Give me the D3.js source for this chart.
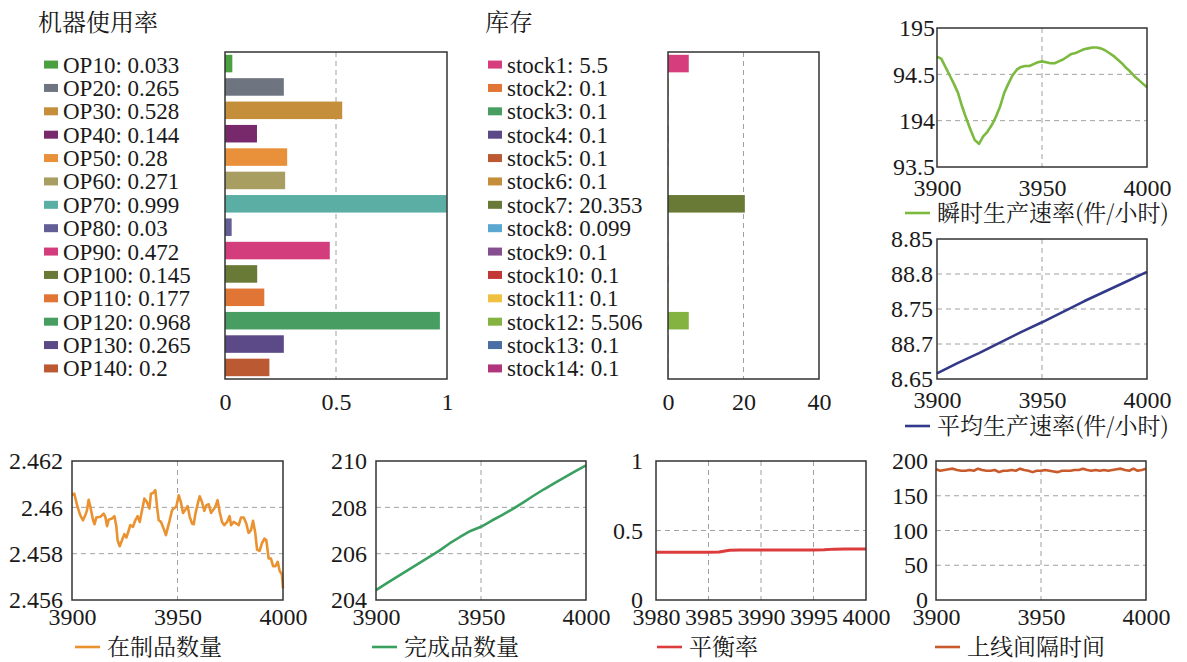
<!DOCTYPE html>
<html>
<head>
<meta charset="utf-8">
<script src="https://cdn.jsdelivr.net/npm/d3@7"></script>
</head>
<body style="margin:0;background:#fff">
<svg id="chart" width="1187" height="662"></svg>
<script>
// ---- data ----
const opNames = ['OP10', 'OP20', 'OP30', 'OP40', 'OP50', 'OP60', 'OP70', 'OP80', 'OP90', 'OP100', 'OP110', 'OP120', 'OP130', 'OP140'];
const opValues = [0.033, 0.265, 0.528, 0.144, 0.28, 0.271, 0.999, 0.03, 0.472, 0.145, 0.177, 0.968, 0.265, 0.2];
const opColors = ['#4aa040', '#6e7580', '#c48e3a', '#77296b', '#e8903a', '#a89e62', '#5aaea3', '#635f96', '#d43d7d', '#687a35', '#e07535', '#489e62', '#5b4a87', '#bb5a32'];

const stockNames = ['stock1', 'stock2', 'stock3', 'stock4', 'stock5', 'stock6', 'stock7', 'stock8', 'stock9', 'stock10', 'stock11', 'stock12', 'stock13', 'stock14'];
const stockValues = [5.5, 0.1, 0.1, 0.1, 0.1, 0.1, 20.353, 0.099, 0.1, 0.1, 0.1, 5.506, 0.1, 0.1];
const stockColors = ['#d63d7d', '#e07535', '#489e62', '#5b4a87', '#bb5a32', '#c48e3a', '#687a35', '#5aa7cf', '#854e8e', '#c43737', '#f0c040', '#84b342', '#4a6fa5', '#b0357a'];

// 瞬时生产速率, every 2 time units from 3900
const rateX = d3.range(3900, 4001, 2);
const rateY = [194.69, 194.67, 194.58, 194.49, 194.40, 194.30, 194.15, 194.02, 193.90, 193.79, 193.75,
  193.83, 193.88, 193.95, 194.04, 194.15, 194.30, 194.40, 194.49, 194.55, 194.58,
  194.59, 194.59, 194.61, 194.63, 194.64, 194.63, 194.62, 194.62, 194.64, 194.66,
  194.69, 194.72, 194.73, 194.75, 194.77, 194.78, 194.79, 194.79, 194.78, 194.76,
  194.73, 194.70, 194.66, 194.62, 194.57, 194.53, 194.48, 194.44, 194.40, 194.36];

// 平均生产速率, every 10
const avgX = d3.range(3900, 4001, 10);
const avgY = [88.658, 88.673, 88.687, 88.702, 88.717, 88.731, 88.746, 88.761, 88.775, 88.789, 88.803];

// 在制品数量
const wipX = [3900, 3901.1, 3902.4, 3903.9, 3905.2, 3906.3, 3907.1, 3907.9, 3908.7, 3910, 3910.7, 3911.5, 3913.4, 3915, 3915.8, 3916.6, 3917.4, 3919, 3920.1, 3921,
  3921.6, 3922.6, 3923.7, 3924.8, 3925.8, 3926.9, 3927.6, 3928.9, 3930, 3931.1, 3932.1, 3933.2, 3934.3, 3935.5, 3936.7, 3937.4, 3938.4, 3939.5, 3940.3, 3941.1,
  3942.2, 3943.4, 3944.5, 3945.3, 3946.3, 3947.4, 3948.2, 3949.4, 3950.6, 3951.7, 3952.6, 3953.7, 3954.8, 3955.8, 3956.9, 3957.7, 3958.5, 3959.6, 3960.5, 3961.6,
  3962.7, 3963.7, 3964.8, 3965.9, 3966.8, 3967.9, 3969, 3970, 3971.1, 3972.2, 3973.5, 3974.7, 3975.4, 3976.6, 3977.9, 3979, 3980.1, 3981.4, 3982.6, 3983.7,
  3984.8, 3985.8, 3986.9, 3987.7, 3988.9, 3990, 3991.2, 3992.1, 3993.2, 3994.3, 3995.3, 3996.4, 3997.5, 3998.4, 3999.5, 4000];
const wipY = [2.46052, 2.46059, 2.46009, 2.45966, 2.45944, 2.45966, 2.45987, 2.46033, 2.46002, 2.45944, 2.45927, 2.45956, 2.45959, 2.45973, 2.45959, 2.45919, 2.45947, 2.45952, 2.45962, 2.45919,
  2.45858, 2.45832, 2.45858, 2.45884, 2.45870, 2.45901, 2.45923, 2.45916, 2.45944, 2.45962, 2.45937, 2.45987, 2.46038, 2.46023, 2.45995, 2.46059, 2.46062, 2.46074, 2.46002, 2.45944,
  2.45937, 2.45909, 2.45880, 2.45909, 2.45944, 2.45987, 2.45995, 2.46002, 2.46052, 2.46019, 2.45976, 2.45990, 2.46005, 2.45959, 2.45930, 2.45927, 2.45973, 2.46016, 2.46048, 2.46023,
  2.45985, 2.46009, 2.46013, 2.45976, 2.45987, 2.46002, 2.46031, 2.45980, 2.45937, 2.45923, 2.45937, 2.45962, 2.45923, 2.45937, 2.45930, 2.45923, 2.45956, 2.45956, 2.45930, 2.45890,
  2.45901, 2.45942, 2.45887, 2.45818, 2.45812, 2.45844, 2.45865, 2.45858, 2.45779, 2.45779, 2.45746, 2.45746, 2.45765, 2.45726, 2.45710, 2.45650];

// 完成品数量, every 5
const doneX = d3.range(3900, 4001, 5);
const doneY = [204.43, 204.72, 205.0, 205.28, 205.56, 205.84, 206.12, 206.44, 206.72, 206.98, 207.16,
  207.42, 207.66, 207.92, 208.2, 208.5, 208.78, 209.04, 209.3, 209.56, 209.81];

// 平衡率, every unit from 3980
const balX = d3.range(3980, 4001, 1);
const balY = [0.344, 0.344, 0.344, 0.344, 0.344, 0.344, 0.346, 0.358, 0.36, 0.36, 0.36,
  0.36, 0.36, 0.36, 0.36, 0.36, 0.361, 0.366, 0.367, 0.367, 0.367];

// 上线间隔时间, every 2
const gapX = d3.range(3900, 4001, 2);
const gapY = [188, 186, 187, 188, 189, 187, 186, 186, 187, 186, 189, 187, 186, 186, 187, 184, 186, 186, 187, 186,
  189, 187, 186, 184, 186, 186, 187, 186, 185, 184, 186, 186, 186, 187, 187, 189, 187, 186, 187, 186,
  187, 186, 187, 188, 189, 187, 186, 189, 186, 187, 189];

const svg = d3.select('#chart');
const INK = '#1a1a1a';
const FRAME = '#333';
const GRID = '#a0a0a0';

function frame(g, w, h) {
  g.append('rect')
    .attr('width', w).attr('height', h)
    .attr('fill', 'none').attr('stroke', FRAME).attr('stroke-width', 1.5);
}

function barPanel(cfg) {
  const g = svg.append('g');
  g.append('text').attr('x', cfg.titleX).attr('y', 31).style('font-size', '24px').text(cfg.title);

  const x = d3.scaleLinear().domain(cfg.domain).range([cfg.x0, cfg.x1]);
  const y = d3.scaleBand().domain(cfg.names).range([cfg.y0, cfg.y1]).paddingInner(0.25).paddingOuter(0.12);

  // grid
  g.append('g').selectAll('line').data(cfg.grid).join('line')
    .attr('x1', d => x(d)).attr('x2', d => x(d))
    .attr('y1', cfg.y0).attr('y2', cfg.y1)
    .attr('stroke', GRID).attr('stroke-dasharray', '5,4');

  g.selectAll('.bar').data(cfg.names).join('rect')
    .attr('class', 'bar')
    .attr('x', x(0))
    .attr('y', d => y(d))
    .attr('width', (d, i) => x(cfg.values[i]) - x(0))
    .attr('height', y.bandwidth())
    .attr('fill', (d, i) => cfg.colors[i]);

  const fr = g.append('g').attr('transform', `translate(${cfg.x0},${cfg.y0})`);
  frame(fr, cfg.x1 - cfg.x0, cfg.y1 - cfg.y0);

  const ax = g.append('g').attr('transform', `translate(0,${cfg.y1})`)
    .call(d3.axisBottom(x).tickValues(cfg.ticks).tickSize(0).tickPadding(14).tickFormat(d3.format('~g')));
  ax.select('.domain').remove();
  ax.selectAll('text').style('font-size', '24px');

  // legend
  const leg = g.append('g');
  cfg.names.forEach((n, i) => {
    const cy = y(n) + y.bandwidth() / 2 + 1;
    leg.append('rect').attr('x', cfg.legendX).attr('y', cy - 4).attr('width', 14).attr('height', 8).attr('fill', cfg.colors[i]);
    leg.append('text').attr('x', cfg.legendX + 19).attr('y', cy).attr('dy', '0.35em')
      .style('font-size', '23px').text(`${n}: ${cfg.values[i]}`);
  });
}

function linePanel(cfg) {
  const w = cfg.x1 - cfg.x0, h = cfg.y1 - cfg.y0;
  const g = svg.append('g').attr('transform', `translate(${cfg.x0},${cfg.y0})`);
  const x = d3.scaleLinear().domain(cfg.xDomain).range([0, w]);
  const y = d3.scaleLinear().domain(cfg.yDomain).range([h, 0]);

  const inner = (arr, dom) => arr.filter(v => v > dom[0] && v < dom[1]);

  g.append('g').selectAll('line').data(inner(cfg.xTicks, cfg.xDomain)).join('line')
    .attr('x1', d => x(d)).attr('x2', d => x(d)).attr('y1', 0).attr('y2', h)
    .attr('stroke', GRID).attr('stroke-dasharray', '5,4');
  g.append('g').selectAll('line').data(inner(cfg.yTicks, cfg.yDomain)).join('line')
    .attr('y1', d => y(d)).attr('y2', d => y(d)).attr('x1', 0).attr('x2', w)
    .attr('stroke', GRID).attr('stroke-dasharray', '5,4');

  const pts = cfg.xs.map((d, i) => [d, cfg.ys[i]]);
  g.append('path').datum(pts)
    .attr('fill', 'none').attr('stroke', cfg.color).attr('stroke-width', cfg.lineWidth || 2.6)
    .attr('stroke-linejoin', 'round')
    .attr('d', d3.line().x(d => x(d[0])).y(d => y(d[1])));

  frame(g, w, h);

  const ax = g.append('g').attr('transform', `translate(0,${h})`)
    .call(d3.axisBottom(x).tickValues(cfg.xTicks).tickSize(0).tickPadding(cfg.xPad || 11).tickFormat(d3.format('d')));
  ax.select('.domain').remove();
  ax.selectAll('text').style('font-size', '24px');

  const ay = g.append('g')
    .call(d3.axisLeft(y).tickValues(cfg.yTicks).tickSize(0).tickPadding(cfg.yPad)
      .tickFormat((d, i) => cfg.yLabels[i]));
  ay.select('.domain').remove();
  ay.selectAll('text').style('font-size', '24px');

  const lg = svg.append('g').attr('transform', `translate(${cfg.legendX},${cfg.legendY})`);
  lg.append('line').attr('x1', 0).attr('x2', 25).attr('y1', 0).attr('y2', 0)
    .attr('stroke', cfg.color).attr('stroke-width', 2.6);
  lg.append('text').attr('x', 32).attr('y', 0).attr('dy', '0.35em').style('font-size', '23px').text(cfg.legend);
}

barPanel({
  title: '机器使用率', titleX: 38, names: opNames, values: opValues, colors: opColors,
  x0: 225, x1: 447, y0: 52, y1: 379, domain: [0, 1], ticks: [0, 0.5, 1], grid: [0.5], legendX: 44
});

barPanel({
  title: '库存', titleX: 485, names: stockNames, values: stockValues, colors: stockColors,
  x0: 668, x1: 819, y0: 52, y1: 379, domain: [0, 40], ticks: [0, 20, 40], grid: [20], legendX: 488
});

linePanel({
  x0: 937, x1: 1147, y0: 28, y1: 167, xDomain: [3900, 4000], xTicks: [3900, 3950, 4000],
  yDomain: [193.5, 195], yTicks: [193.5, 194, 194.5, 195], yLabels: ['93.5', '194', '94.5', '195'], yPad: 2,
  xs: rateX, ys: rateY, color: '#7cb93f', legend: '瞬时生产速率(件/小时)', legendX: 905, legendY: 213, xPad: 12
});

linePanel({
  x0: 937, x1: 1147, y0: 239, y1: 379, xDomain: [3900, 4000], xTicks: [3900, 3950, 4000],
  yDomain: [88.65, 88.85], yTicks: [88.65, 88.7, 88.75, 88.8, 88.85], yLabels: ['8.65', '88.7', '8.75', '88.8', '8.85'], yPad: 4,
  xs: avgX, ys: avgY, color: '#33398a', legend: '平均生产速率(件/小时)', legendX: 905, legendY: 426, xPad: 12
});

linePanel({
  x0: 72, x1: 283, y0: 461, y1: 600, xDomain: [3900, 4000], xTicks: [3900, 3950, 4000],
  yDomain: [2.456, 2.462], yTicks: [2.456, 2.458, 2.46, 2.462], yLabels: ['2.456', '2.458', '2.46', '2.462'], yPad: 9,
  xs: wipX, ys: wipY, color: '#ea9230', legend: '在制品数量', legendX: 75, legendY: 647, xPad: 8
});

linePanel({
  x0: 376, x1: 586, y0: 461, y1: 600, xDomain: [3900, 4000], xTicks: [3900, 3950, 4000],
  yDomain: [204, 210], yTicks: [204, 206, 208, 210], yLabels: ['204', '206', '208', '210'], yPad: 9,
  xs: doneX, ys: doneY, color: '#3aa060', legend: '完成品数量', legendX: 372, legendY: 647, xPad: 8
});

linePanel({
  x0: 656, x1: 866, y0: 461, y1: 600, xDomain: [3980, 4000], xTicks: [3980, 3985, 3990, 3995, 4000],
  yDomain: [0, 1], yTicks: [0, 0.5, 1], yLabels: ['0', '0.5', '1'], yPad: 13,
  xs: balX, ys: balY, color: '#dc3c3c', legend: '平衡率', legendX: 657, legendY: 647, xPad: 8, lineWidth: 3
});

linePanel({
  x0: 936, x1: 1146, y0: 461, y1: 600, xDomain: [3900, 4000], xTicks: [3900, 3950, 4000],
  yDomain: [0, 200], yTicks: [0, 50, 100, 150, 200], yLabels: ['0', '50', '100', '150', '200'], yPad: 8,
  xs: gapX, ys: gapY, color: '#c85a2c', legend: '上线间隔时间', legendX: 935, legendY: 647, xPad: 8
});

// a single family per text: serif for latin labels, the CJK serif for Chinese ones
svg.selectAll('text').each(function () {
  const cjk = /[\u4e00-\u9fff]/.test(this.textContent);
  d3.select(this).attr('font-family', null)
    .style('font-family', cjk ? '"Noto Serif CJK SC"' : '"Liberation Serif"')
    .attr('fill', INK);
});
svg.selectAll('g').attr('font-family', null);
</script>
</body>
</html>
